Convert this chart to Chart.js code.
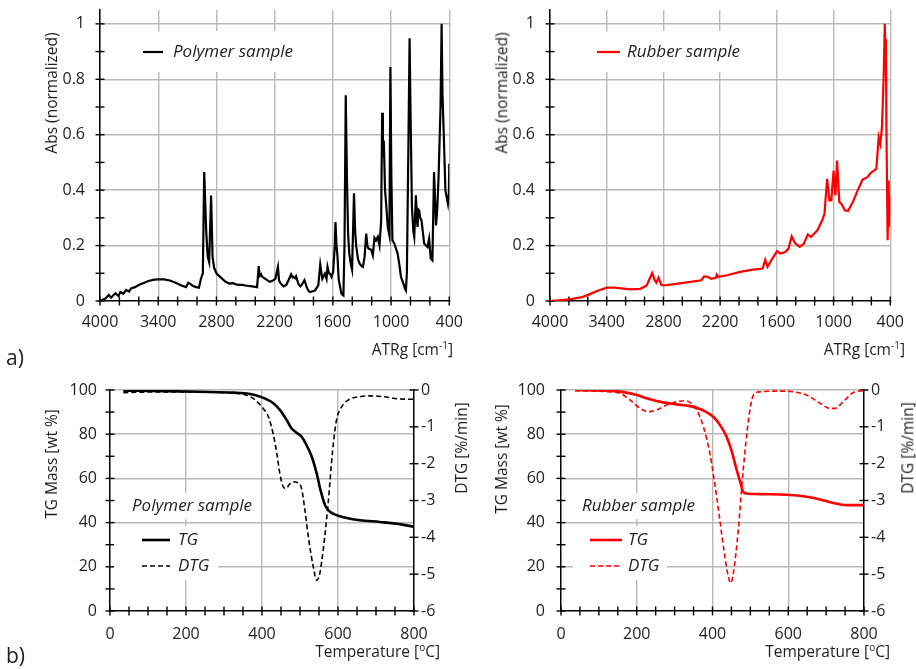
<!DOCTYPE html>
<html>
<head>
<meta charset="utf-8">
<script src="https://cdn.jsdelivr.net/npm/chart.js@4.4.0/dist/chart.umd.min.js"></script>
<style>
  body { margin: 0; background: #fff; }
  #wrap { position: relative; width: 916px; height: 669px; overflow: hidden; font-family: 'Open Sans', sans-serif; color: #1e1e1e; }
  canvas { position: absolute; }
  .t { position: absolute; font-size: 15.5px; line-height: 1; white-space: nowrap; z-index: 5; }
  .rot { transform: translate(-50%, -50%) rotate(-90deg); }
  .tag { position: absolute; font-size: 21px; line-height: 1; z-index: 5; }
  sup { font-size: 10px; line-height: 0; vertical-align: 6px; }
</style>
</head>
<body>
<div id="wrap">
  <canvas id="ftirPoly" width="475" height="365" style="left:0;top:0"></canvas>
  <canvas id="ftirRub" width="456" height="365" style="left:460px;top:0"></canvas>
  <canvas id="tgPoly" width="475" height="304" style="left:0;top:365px"></canvas>
  <canvas id="tgRub" width="441" height="304" style="left:475px;top:365px"></canvas>

  <div class="t rot" style="left:52px;top:93px">Abs (normalized)</div>
  <div class="t rot" style="left:502px;top:93px">Abs (normalized)</div>
  <div class="t" style="right:463px;top:342px">ATRg [cm<sup>-1</sup>]</div>
  <div class="t" style="right:11px;top:342px">ATRg [cm<sup>-1</sup>]</div>

  <div class="t rot" style="left:52px;top:464px">TG Mass [wt %]</div>
  <div class="t rot" style="left:462px;top:448px">DTG [%/min]</div>
  <div class="t rot" style="left:502px;top:459px">TG Mass [wt %]</div>
  <div class="t rot" style="left:908px;top:448px">DTG [%/min]</div>
  <div class="t" style="right:476px;top:644px">Temperature [<sup>o</sup>C]</div>
  <div class="t" style="right:26px;top:644px">Temperature [<sup>o</sup>C]</div>

  <div class="tag" style="left:6px;top:347px">a)</div>
  <div class="tag" style="left:6px;top:645px">b)</div>
</div>

<script>
// ---- FTIR spectra (wavenumber cm-1, normalized absorbance) ----
const polyWn = [4000,3975,3940,3910,3885,3865,3840,3810,3790,3760,3730,3700,3680,3640,3600,3557,3500,3440,3400,3340,
  3280,3220,3160,3114,3090,3070,3040,3010,2980,2960,2940,2926,2905,2890,2875,2855,2840,2824,2800,2740,
  2705,2660,2636,2600,2560,2534,2500,2432,2381,2364,2355,2340,2330,2296,2250,2227,2193,2166,2155,2142,
  2108,2080,2057,2030,2015,2006,1990,1979,1955,1935,1921,1893,1869,1850,1835,1800,1784,1750,1730,1709,
  1695,1682,1665,1655,1640,1631,1614,1597,1580,1573,1562,1552,1540,1528,1511,1491,1480,1467,1455,1443,
  1430,1416,1402,1382,1370,1358,1340,1324,1300,1290,1273,1256,1244,1232,1205,1188,1171,1154,1137,1119,
  1102,1092,1084,1075,1062,1051,1034,1017,1007,997,986,966,932,910,898,870,857,847,837,820,
  809,800,785,770,761,744,735,727,718,710,700,686,659,640,625,608,591,574,557,537,
  524,510,490,479,470,455,440,427,414,404,400];
const polyAbs = [0,0.004,0.01,0.022,0.012,0.02,0.028,0.018,0.032,0.026,0.04,0.034,0.045,0.05,0.058,0.064,0.072,0.077,0.078,0.078,
  0.074,0.066,0.056,0.05,0.066,0.062,0.054,0.05,0.048,0.08,0.1,0.465,0.25,0.16,0.14,0.381,0.16,0.12,0.1,0.08,
  0.069,0.062,0.065,0.06,0.058,0.058,0.056,0.053,0.05,0.126,0.09,0.096,0.088,0.08,0.069,0.072,0.08,0.123,0.075,0.065,
  0.053,0.058,0.075,0.096,0.085,0.087,0.082,0.089,0.062,0.053,0.058,0.075,0.05,0.036,0.032,0.036,0.038,0.056,0.131,0.08,
  0.09,0.099,0.08,0.123,0.1,0.099,0.087,0.105,0.2,0.285,0.2,0.159,0.08,0.056,0.026,0.02,0.2,0.742,0.45,0.243,
  0.17,0.135,0.113,0.389,0.25,0.195,0.15,0.135,0.125,0.123,0.159,0.243,0.2,0.189,0.185,0.165,0.228,0.219,0.231,0.2,
  0.291,0.679,0.52,0.579,0.4,0.351,0.267,0.237,0.844,0.45,0.219,0.207,0.171,0.12,0.087,0.06,0.044,0.038,0.1,0.6,
  0.948,0.7,0.339,0.25,0.231,0.381,0.3,0.267,0.33,0.327,0.3,0.291,0.207,0.2,0.195,0.225,0.153,0.147,0.465,0.273,
  0.33,0.45,0.7,1.0,0.75,0.579,0.4,0.375,0.351,0.387,0.495];

const rubWn = [4000,3795,3659,3591,3489,3397,3318,3148,3045,2977,2953,2919,2892,2875,2851,2824,2800,2705,2534,2398,
  2370,2330,2296,2245,2234,2220,2125,1989,1852,1750,1723,1699,1648,1597,1563,1511,1477,1443,1409,1358,
  1314,1273,1239,1171,1120,1096,1068,1044,1024,1000,980,963,939,915,881,847,796,745,693,642,
  608,547,523,506,488,470,458,452,447,440,428,418,409,400];
const rubAbs = [0,0.006,0.014,0.023,0.038,0.048,0.048,0.042,0.044,0.056,0.075,0.101,0.075,0.066,0.084,0.059,0.056,0.06,0.068,0.075,
  0.089,0.087,0.08,0.084,0.095,0.087,0.093,0.105,0.113,0.117,0.149,0.123,0.153,0.18,0.171,0.177,0.189,0.233,0.209,0.195,
  0.207,0.24,0.231,0.255,0.291,0.315,0.441,0.363,0.363,0.471,0.381,0.507,0.357,0.349,0.327,0.325,0.357,0.399,0.438,0.447,
  0.462,0.477,0.591,0.567,0.627,0.808,1.0,0.9,0.946,0.6,0.219,0.435,0.267,0.375];

// ---- TG / DTG (temperature degC) ----
const polyT = [35,149,237,325,368,395,412,430,447,465,478,491,504,517,531,544,554,566,579,596,623,658,710,763,800];
const polyTG = [99.7,99.5,99.2,98.8,98.2,97.0,95.8,94.0,91.0,86.4,82.6,80.7,78.9,75.1,69.8,62.2,54.7,47.9,44.9,43.4,42.1,41.1,40.3,39.3,38.1];
const polyDT = [35,149,237,325,360,382,403,417,430,439,447,456,463,474,482,495,504,513,522,535,544,552,561,574,586,596,610,631,658,684,719,763,800];
const polyDTG = [-0.07,-0.05,-0.05,-0.09,-0.14,-0.27,-0.5,-0.73,-1.22,-1.72,-2.27,-2.63,-2.67,-2.54,-2.49,-2.52,-2.67,-3.26,-3.99,-4.8,-5.17,-4.98,-4.35,-3.08,-1.63,-0.82,-0.45,-0.25,-0.18,-0.16,-0.18,-0.245,-0.25];

const rubT = [37,129,173,200,235,270,305,341,367,385,402,420,437,451,464,473,481,490,525,596,649,684,719,754,800];
const rubTG = [100,99.7,98.8,97.7,95.8,94.4,93.5,92.7,91.4,89.9,87.9,84.1,78.9,72.1,63.7,58.5,53.9,53.2,52.9,52.6,51.7,50.5,48.9,47.9,47.9];
const rubDT = [37,129,156,182,209,231,253,279,305,325,341,358,376,393,411,429,442,448,455,468,481,495,508,525,578,613,649,684,710,723,745,772,800];
const rubDTG = [-0.02,-0.05,-0.09,-0.27,-0.5,-0.59,-0.54,-0.41,-0.32,-0.29,-0.34,-0.54,-1.0,-1.72,-2.9,-4.26,-5.08,-5.24,-4.98,-3.81,-2.18,-0.82,-0.14,-0.05,-0.03,-0.05,-0.14,-0.36,-0.5,-0.5,-0.32,-0.07,-0.02];

// ---- ticks ----
const wnTicks = [4000,3800,3600,3400,3200,3000,2800,2600,2400,2200,2000,1800,1600,1400,1200,1000,800,600,400];
const wnLabels = [4000,3400,2800,2200,1600,1000,400];
const absTicks = [0,0.1,0.2,0.3,0.4,0.5,0.6,0.7,0.8,0.9,1];
const absLabels = [0,0.2,0.4,0.6,0.8,1];
const tempTicks = [0,50,100,150,200,250,300,350,400,450,500,550,600,650,700,750,800];
const tempLabels = [0,200,400,600,800];
const massTicks = [0,10,20,30,40,50,60,70,80,90,100];
const massLabels = [0,20,40,60,80,100];
const dtgTicks = [-6,-5,-4,-3,-2,-1,0];

Chart.defaults.font.family = "'Open Sans', sans-serif";
Chart.defaults.font.size = 16;
Chart.defaults.color = '#1e1e1e';
Chart.defaults.animation = false;

const gridGray = '#b9b9b9';

const pts = (xs, ys) => xs.map((x, i) => ({ x: x, y: ys[i] }));

function makeScale(o) {
  return {
    type: 'linear',
    position: o.position,
    min: o.min,
    max: o.max,
    reverse: !!o.reverse,
    afterBuildTicks: (s) => { s.ticks = o.ticks.map((v) => ({ value: v })); },
    afterFit: (s) => {
      if (s.isHorizontal()) {
        s.height = o.size;
      } else {
        s.width = o.size;
        s.paddingTop = 0;
        s.paddingBottom = 0;
      }
    },
    grid: {
      drawTicks: false,
      lineWidth: 1.4,
      color: (c) => (o.gridAt || []).includes(c.tick && c.tick.value) ? gridGray : 'rgba(0,0,0,0)',
    },
    border: { display: true, color: '#000', width: 1.5 },
    ticks: {
      padding: o.pad,
      autoSkip: false,
      maxRotation: 0,
      minRotation: 0,
      callback: (v) => o.labels.includes(v) ? String(v) : '',
    },
  };
}

// short tick marks that cross the axis line
const crossTicks = {
  id: 'crossTicks',
  beforeDatasetsDraw(chart, args, opts) {
    const ctx = chart.ctx;
    ctx.save();
    ctx.strokeStyle = '#000';
    ctx.lineWidth = 1.4;
    Object.values(chart.scales).forEach((scale) => {
      const len = opts.len || 4.5;
      scale.ticks.forEach((t) => {
        const p = scale.getPixelForValue(t.value);
        ctx.beginPath();
        if (scale.isHorizontal()) {
          ctx.moveTo(p, scale.top - len);
          ctx.lineTo(p, scale.top + len);
        } else {
          const x = scale.position === 'left' ? scale.right : scale.left;
          ctx.moveTo(x - len, p);
          ctx.lineTo(x + len, p);
        }
        ctx.stroke();
      });
    });
    ctx.restore();
  },
};

// legend drawn inside the plot, on a white box
const boxLegend = {
  id: 'boxLegend',
  beforeDatasetsDraw(chart, args, o) {
    if (!o.items) return;
    const ctx = chart.ctx;
    ctx.save();
    ctx.fillStyle = '#fff';
    (o.boxes || []).forEach((b) => ctx.fillRect(b[0], b[1], b[2], b[3]));
    ctx.font = "italic 17px 'Open Sans', sans-serif";
    ctx.textBaseline = 'middle';
    ctx.textAlign = 'left';
    if (o.title) {
      ctx.fillStyle = '#1e1e1e';
      ctx.fillText(o.title.text, o.title.x, o.title.y);
    }
    o.items.forEach((it) => {
      const ds = chart.data.datasets[it.ds];
      ctx.strokeStyle = ds.borderColor;
      ctx.lineWidth = ds.borderWidth;
      ctx.setLineDash(ds.borderDash || []);
      ctx.beginPath();
      ctx.moveTo(it.x0, it.y);
      ctx.lineTo(it.x1, it.y);
      ctx.stroke();
      ctx.setLineDash([]);
      ctx.fillStyle = '#1e1e1e';
      ctx.fillText(ds.label, it.tx, it.y);
    });
    ctx.restore();
  },
};

function ftirChart(id, wn, abs, label, color, yWidth, yPad, padRight, legend) {
  return new Chart(document.getElementById(id), {
    type: 'line',
    data: {
      datasets: [{
        label: label,
        data: pts(wn, abs),
        borderColor: color,
        borderWidth: 2.2,
        pointRadius: 0,
        tension: 0,
        fill: false,
      }],
    },
    options: {
      responsive: false,
      devicePixelRatio: 1,
      layout: { padding: { top: 10, right: padRight, left: 0, bottom: 0 } },
      scales: {
        x: makeScale({ position: 'bottom', min: 400, max: 4000, reverse: true, ticks: wnTicks,
          labels: wnLabels, gridAt: wnLabels, size: 64, pad: 12 }),
        y: makeScale({ position: 'left', min: 0, max: 1.05, ticks: absTicks, labels: absLabels,
          gridAt: [0.2, 0.4, 0.6, 0.8, 1], size: yWidth, pad: yPad }),
      },
      plugins: {
        legend: { display: false },
        tooltip: { enabled: false },
        crossTicks: { len: 4.5 },
        boxLegend: legend,
      },
    },
    plugins: [crossTicks, boxLegend],
  });
}

function tgChart(id, t, tg, dt, dtg, color, leftW, rightW, leftPad, legend) {
  return new Chart(document.getElementById(id), {
    type: 'line',
    data: {
      datasets: [
        { label: 'TG', data: pts(t, tg), yAxisID: 'y', borderColor: color, borderWidth: 2.6,
          pointRadius: 0, cubicInterpolationMode: 'monotone', fill: false },
        { label: 'DTG', data: pts(dt, dtg), yAxisID: 'y2', borderColor: color, borderWidth: 1.6,
          borderDash: [5, 3], pointRadius: 0, cubicInterpolationMode: 'monotone', fill: false },
      ],
    },
    options: {
      responsive: false,
      devicePixelRatio: 1,
      layout: { padding: { top: 25, right: 0, left: 0, bottom: 0 } },
      scales: {
        x: makeScale({ position: 'bottom', min: 0, max: 800, ticks: tempTicks, labels: tempLabels,
          gridAt: [200, 400, 600], size: 58, pad: 14 }),
        y: makeScale({ position: 'left', min: 0, max: 100, ticks: massTicks, labels: massLabels,
          gridAt: [20, 40, 60, 80, 100], size: leftW, pad: leftPad }),
        y2: makeScale({ position: 'right', min: -6, max: 0, ticks: dtgTicks, labels: dtgTicks,
          gridAt: [], size: rightW, pad: 7 }),
      },
      plugins: {
        legend: { display: false },
        tooltip: { enabled: false },
        crossTicks: { len: 4.5 },
        boxLegend: legend,
      },
    },
    plugins: [crossTicks, boxLegend],
  });
}

ftirChart('ftirPoly', polyWn, polyAbs, 'Polymer sample', '#000000', 100, 15, 23, {
  boxes: [[133, 31, 172, 41]],
  items: [{ ds: 0, x0: 143, x1: 163, tx: 173, y: 52 }],
});
ftirChart('ftirRub', rubWn, rubAbs, 'Rubber sample', '#ff0000', 90, 15, 14, {
  boxes: [[128, 31, 160, 41]],
  items: [{ ds: 0, x0: 137, x1: 160, tx: 167, y: 52 }],
});

tgChart('tgPoly', polyT, polyTG, polyDT, polyDTG, '#000000', 110, 61, 13, {
  boxes: [[126, 128, 130, 26], [114, 161, 104, 54]],
  title: { text: 'Polymer sample', x: 132, y: 141 },
  items: [
    { ds: 0, x0: 142, x1: 170, tx: 178, y: 175 },
    { ds: 1, x0: 142, x1: 170, tx: 178, y: 201 },
  ],
});
tgChart('tgRub', rubT, rubTG, rubDT, rubDTG, '#ff0000', 86, 52, 16, {
  boxes: [[101, 128, 130, 26], [98, 161, 94, 54]],
  title: { text: 'Rubber sample', x: 107, y: 141 },
  items: [
    { ds: 0, x0: 115, x1: 147, tx: 153, y: 175 },
    { ds: 1, x0: 115, x1: 147, tx: 153, y: 201 },
  ],
});
</script>
</body>
</html>
